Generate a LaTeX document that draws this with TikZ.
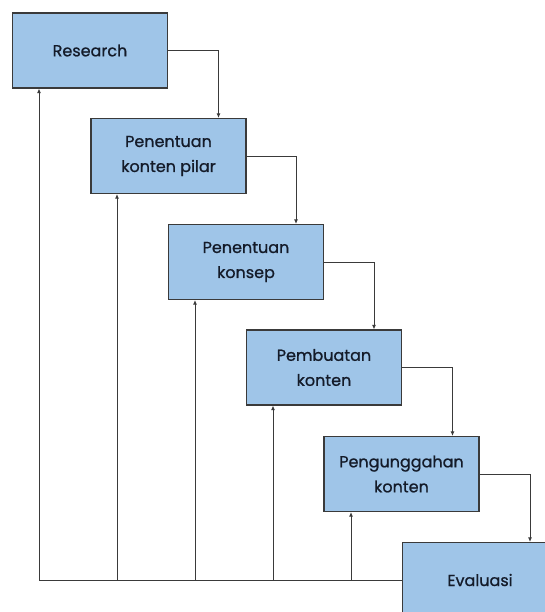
\documentclass[tikz,border=0pt]{standalone}
\usepackage{fontspec}
\setmainfont{Poppins}
\newfontfamily\stagefont{Poppins}[FakeBold=0.9]
\usepackage{tikz}
\usetikzlibrary{arrows.meta,positioning,calc}
\definecolor{boxfill}{HTML}{9FC5E8}
\definecolor{edge}{HTML}{3A3A3A}
\definecolor{ink}{HTML}{141B29}
\tikzset{stage/.style={draw=edge,line width=1.2pt,fill=boxfill,align=center,minimum width=155pt,minimum height=75pt,
           text=ink,font=\stagefont\fontsize{16}{25}\selectfont},
         flow/.style={-{Latex[length=4.5pt,width=4pt]},line width=0.9pt,draw=edge},
         back/.style={line width=0.9pt,draw=edge}}

\begin{document}
\begin{tikzpicture}[x=1pt,y=-1pt]
\useasboundingbox (0,0) rectangle (545,612);
\clip (0,0) rectangle (545,612);
\node[stage] (research) at (90,50.5) {Research};
\node[stage] (pilar) at (168.5,156) {Penentuan\\konten pilar};
\node[stage] (konsep) at (246,262) {Penentuan\\konsep};
\node[stage] (buat) at (324,367.5) {Pembuatan\\konten};
\node[stage] (unggah) at (401.5,474) {Pengunggahan\\konten};
\node[stage] (evaluasi) at (480,580) {Evaluasi};
% alur maju
\draw[flow] (research.east) -| ([xshift=50pt]pilar.north);
\draw[flow] (pilar.east) -| ([xshift=50pt]konsep.north);
\draw[flow] (konsep.east) -| ([xshift=50pt]buat.north);
\draw[flow] (buat.east) -| ([xshift=51pt]unggah.north);
\draw[flow] (unggah.east) -| ([xshift=50pt]evaluasi.north);
% umpan balik dari evaluasi
\coordinate (b1) at ([xshift=-51pt]research.south);
\coordinate (b2) at ([xshift=-51.5pt]pilar.south);
\coordinate (b3) at ([xshift=-51pt]konsep.south);
\coordinate (b4) at ([xshift=-51pt]buat.south);
\coordinate (b5) at ([xshift=-50.5pt]unggah.south);
\draw[back] (evaluasi.west) -- (b1 |- evaluasi.west);
\foreach \b in {b1,b2,b3,b4,b5}
  \draw[flow] (\b |- evaluasi.west) -- (\b);
\end{tikzpicture}
\end{document}
